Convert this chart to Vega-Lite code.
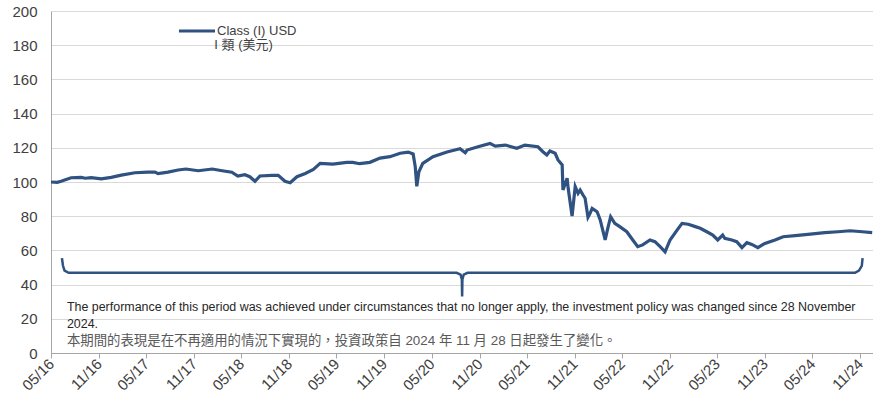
{
  "$schema": "https://vega.github.io/schema/vega-lite/v6.json",
  "width": 822,
  "height": 342,
  "autosize": {"type": "none"},
  "padding": {"left": 51, "top": 11, "right": 0, "bottom": 49},
  "background": "white",
  "config": {"view": {"stroke": null}, "font": "Liberation Sans"},
  "datasets": {
    "nav": [
      {"date": "2016-05-01", "value": 100, "series": "Class (I) USD"},
      {"date": "2016-05-25", "value": 99.8, "series": "Class (I) USD"},
      {"date": "2016-06-09", "value": 100.4, "series": "Class (I) USD"},
      {"date": "2016-07-17", "value": 102.5, "series": "Class (I) USD"},
      {"date": "2016-08-24", "value": 102.7, "series": "Class (I) USD"},
      {"date": "2016-09-10", "value": 102.2, "series": "Class (I) USD"},
      {"date": "2016-10-02", "value": 102.6, "series": "Class (I) USD"},
      {"date": "2016-11-10", "value": 101.8, "series": "Class (I) USD"},
      {"date": "2016-12-18", "value": 102.7, "series": "Class (I) USD"},
      {"date": "2017-01-26", "value": 104, "series": "Class (I) USD"},
      {"date": "2017-03-19", "value": 105.4, "series": "Class (I) USD"},
      {"date": "2017-05-08", "value": 105.8, "series": "Class (I) USD"},
      {"date": "2017-06-04", "value": 105.8, "series": "Class (I) USD"},
      {"date": "2017-06-16", "value": 104.9, "series": "Class (I) USD"},
      {"date": "2017-07-24", "value": 105.8, "series": "Class (I) USD"},
      {"date": "2017-09-01", "value": 107, "series": "Class (I) USD"},
      {"date": "2017-10-01", "value": 107.6, "series": "Class (I) USD"},
      {"date": "2017-11-17", "value": 106.6, "series": "Class (I) USD"},
      {"date": "2018-01-10", "value": 107.6, "series": "Class (I) USD"},
      {"date": "2018-02-17", "value": 106.6, "series": "Class (I) USD"},
      {"date": "2018-03-26", "value": 105.7, "series": "Class (I) USD"},
      {"date": "2018-04-18", "value": 103.5, "series": "Class (I) USD"},
      {"date": "2018-05-15", "value": 104.3, "series": "Class (I) USD"},
      {"date": "2018-06-03", "value": 103.1, "series": "Class (I) USD"},
      {"date": "2018-06-23", "value": 100.4, "series": "Class (I) USD"},
      {"date": "2018-07-12", "value": 103.5, "series": "Class (I) USD"},
      {"date": "2018-08-27", "value": 103.9, "series": "Class (I) USD"},
      {"date": "2018-09-20", "value": 103.9, "series": "Class (I) USD"},
      {"date": "2018-10-16", "value": 100.4, "series": "Class (I) USD"},
      {"date": "2018-11-05", "value": 99.6, "series": "Class (I) USD"},
      {"date": "2018-12-01", "value": 103.1, "series": "Class (I) USD"},
      {"date": "2019-01-02", "value": 105, "series": "Class (I) USD"},
      {"date": "2019-02-02", "value": 107.4, "series": "Class (I) USD"},
      {"date": "2019-02-28", "value": 110.9, "series": "Class (I) USD"},
      {"date": "2019-04-18", "value": 110.5, "series": "Class (I) USD"},
      {"date": "2019-06-10", "value": 111.5, "series": "Class (I) USD"},
      {"date": "2019-07-03", "value": 111.5, "series": "Class (I) USD"},
      {"date": "2019-07-30", "value": 110.7, "series": "Class (I) USD"},
      {"date": "2019-09-07", "value": 111.5, "series": "Class (I) USD"},
      {"date": "2019-10-16", "value": 114, "series": "Class (I) USD"},
      {"date": "2019-11-23", "value": 114.8, "series": "Class (I) USD"},
      {"date": "2020-01-01", "value": 116.8, "series": "Class (I) USD"},
      {"date": "2020-02-01", "value": 117.5, "series": "Class (I) USD"},
      {"date": "2020-02-20", "value": 116.4, "series": "Class (I) USD"},
      {"date": "2020-02-28", "value": 109, "series": "Class (I) USD"},
      {"date": "2020-03-05", "value": 97.5, "series": "Class (I) USD"},
      {"date": "2020-03-13", "value": 106, "series": "Class (I) USD"},
      {"date": "2020-03-28", "value": 110.9, "series": "Class (I) USD"},
      {"date": "2020-05-06", "value": 114.8, "series": "Class (I) USD"},
      {"date": "2020-06-29", "value": 117.5, "series": "Class (I) USD"},
      {"date": "2020-07-29", "value": 118.7, "series": "Class (I) USD"},
      {"date": "2020-08-18", "value": 119.5, "series": "Class (I) USD"},
      {"date": "2020-09-07", "value": 117.1, "series": "Class (I) USD"},
      {"date": "2020-09-14", "value": 118.7, "series": "Class (I) USD"},
      {"date": "2020-10-26", "value": 120.6, "series": "Class (I) USD"},
      {"date": "2020-12-11", "value": 122.6, "series": "Class (I) USD"},
      {"date": "2020-12-31", "value": 121, "series": "Class (I) USD"},
      {"date": "2021-02-08", "value": 121.6, "series": "Class (I) USD"},
      {"date": "2021-03-24", "value": 119.7, "series": "Class (I) USD"},
      {"date": "2021-04-24", "value": 121.6, "series": "Class (I) USD"},
      {"date": "2021-06-13", "value": 120.6, "series": "Class (I) USD"},
      {"date": "2021-07-02", "value": 117.7, "series": "Class (I) USD"},
      {"date": "2021-07-17", "value": 115.8, "series": "Class (I) USD"},
      {"date": "2021-07-29", "value": 118.1, "series": "Class (I) USD"},
      {"date": "2021-08-18", "value": 116.8, "series": "Class (I) USD"},
      {"date": "2021-08-29", "value": 112.9, "series": "Class (I) USD"},
      {"date": "2021-09-14", "value": 110, "series": "Class (I) USD"},
      {"date": "2021-09-17", "value": 95.3, "series": "Class (I) USD"},
      {"date": "2021-10-03", "value": 102.2, "series": "Class (I) USD"},
      {"date": "2021-10-07", "value": 96.3, "series": "Class (I) USD"},
      {"date": "2021-10-22", "value": 80.1, "series": "Class (I) USD"},
      {"date": "2021-11-03", "value": 97.3, "series": "Class (I) USD"},
      {"date": "2021-11-14", "value": 93.4, "series": "Class (I) USD"},
      {"date": "2021-11-22", "value": 95.3, "series": "Class (I) USD"},
      {"date": "2021-12-03", "value": 92.4, "series": "Class (I) USD"},
      {"date": "2021-12-11", "value": 90.5, "series": "Class (I) USD"},
      {"date": "2021-12-22", "value": 79.4, "series": "Class (I) USD"},
      {"date": "2021-12-30", "value": 81.7, "series": "Class (I) USD"},
      {"date": "2022-01-07", "value": 84.6, "series": "Class (I) USD"},
      {"date": "2022-01-26", "value": 82.6, "series": "Class (I) USD"},
      {"date": "2022-02-07", "value": 77.8, "series": "Class (I) USD"},
      {"date": "2022-02-26", "value": 66.1, "series": "Class (I) USD"},
      {"date": "2022-03-08", "value": 72.9, "series": "Class (I) USD"},
      {"date": "2022-03-19", "value": 79.7, "series": "Class (I) USD"},
      {"date": "2022-04-04", "value": 75.8, "series": "Class (I) USD"},
      {"date": "2022-04-23", "value": 73.9, "series": "Class (I) USD"},
      {"date": "2022-05-20", "value": 70.9, "series": "Class (I) USD"},
      {"date": "2022-06-12", "value": 66.1, "series": "Class (I) USD"},
      {"date": "2022-07-01", "value": 62.2, "series": "Class (I) USD"},
      {"date": "2022-07-20", "value": 63.2, "series": "Class (I) USD"},
      {"date": "2022-08-17", "value": 66.1, "series": "Class (I) USD"},
      {"date": "2022-09-05", "value": 65.1, "series": "Class (I) USD"},
      {"date": "2022-09-25", "value": 62.2, "series": "Class (I) USD"},
      {"date": "2022-10-14", "value": 59.2, "series": "Class (I) USD"},
      {"date": "2022-11-02", "value": 66.1, "series": "Class (I) USD"},
      {"date": "2022-11-29", "value": 71.9, "series": "Class (I) USD"},
      {"date": "2022-12-18", "value": 75.8, "series": "Class (I) USD"},
      {"date": "2023-01-11", "value": 75.3, "series": "Class (I) USD"},
      {"date": "2023-02-07", "value": 73.9, "series": "Class (I) USD"},
      {"date": "2023-02-26", "value": 72.9, "series": "Class (I) USD"},
      {"date": "2023-03-23", "value": 70.9, "series": "Class (I) USD"},
      {"date": "2023-04-15", "value": 69, "series": "Class (I) USD"},
      {"date": "2023-05-04", "value": 66.1, "series": "Class (I) USD"},
      {"date": "2023-05-23", "value": 69, "series": "Class (I) USD"},
      {"date": "2023-05-31", "value": 67, "series": "Class (I) USD"},
      {"date": "2023-06-27", "value": 66.1, "series": "Class (I) USD"},
      {"date": "2023-07-16", "value": 65.1, "series": "Class (I) USD"},
      {"date": "2023-08-05", "value": 61.6, "series": "Class (I) USD"},
      {"date": "2023-08-24", "value": 64.5, "series": "Class (I) USD"},
      {"date": "2023-09-12", "value": 63.5, "series": "Class (I) USD"},
      {"date": "2023-10-05", "value": 61.6, "series": "Class (I) USD"},
      {"date": "2023-11-01", "value": 64.1, "series": "Class (I) USD"},
      {"date": "2023-12-10", "value": 66.1, "series": "Class (I) USD"},
      {"date": "2024-01-10", "value": 68, "series": "Class (I) USD"},
      {"date": "2024-02-25", "value": 68.6, "series": "Class (I) USD"},
      {"date": "2024-04-14", "value": 69.4, "series": "Class (I) USD"},
      {"date": "2024-06-18", "value": 70.4, "series": "Class (I) USD"},
      {"date": "2024-08-08", "value": 70.9, "series": "Class (I) USD"},
      {"date": "2024-09-23", "value": 71.5, "series": "Class (I) USD"},
      {"date": "2024-11-09", "value": 70.9, "series": "Class (I) USD"},
      {"date": "2024-12-17", "value": 70.4, "series": "Class (I) USD"}
    ],
    "bracket": [
      {"seq": 1, "date": "2016-06-12", "value": 55.5},
      {"seq": 2, "date": "2016-06-16", "value": 51},
      {"seq": 3, "date": "2016-06-22", "value": 48.2},
      {"seq": 4, "date": "2016-07-08", "value": 46.9},
      {"seq": 5, "date": "2020-08-05", "value": 46.9},
      {"seq": 6, "date": "2020-08-20", "value": 45.8},
      {"seq": 7, "date": "2020-08-25", "value": 43},
      {"seq": 8, "date": "2020-08-26", "value": 33},
      {"seq": 9, "date": "2020-08-27", "value": 43},
      {"seq": 10, "date": "2020-09-01", "value": 45.8},
      {"seq": 11, "date": "2020-09-16", "value": 46.9},
      {"seq": 12, "date": "2024-10-12", "value": 46.9},
      {"seq": 13, "date": "2024-10-27", "value": 48.2},
      {"seq": 14, "date": "2024-11-07", "value": 51},
      {"seq": 15, "date": "2024-11-10", "value": 55.5}
    ],
    "noteEn": [
      {"date": "2016-07-01", "value": 26.9, "text": "The performance of this period was achieved under circumstances that no longer apply, the investment policy was changed since 28 November"},
      {"date": "2016-07-01", "value": 17, "text": "2024."}
    ],
    "noteZh": [
      {"date": "2016-07-01", "value": 7, "text": "本期間的表現是在不再適用的情況下實現的，投資政策自 2024 年 11 月 28 日起發生了變化。"}
    ],
    "legend2": [
      {"date": "2018-01-18", "value": 180.1, "text": "I 類 (美元)"}
    ]
  },
  "encoding": {
    "x": {
      "field": "date",
      "type": "temporal",
      "scale": {
        "type": "utc",
        "domain": [
          {"year": 2016, "month": 5, "date": 1, "utc": true},
          {"year": 2024, "month": 12, "date": 20, "utc": true}
        ]
      },
      "axis": {
        "title": null,
        "values": [
          {"year": 2016, "month": 5, "date": 1, "utc": true},
          {"year": 2016, "month": 11, "date": 1, "utc": true},
          {"year": 2017, "month": 5, "date": 1, "utc": true},
          {"year": 2017, "month": 11, "date": 1, "utc": true},
          {"year": 2018, "month": 5, "date": 1, "utc": true},
          {"year": 2018, "month": 11, "date": 1, "utc": true},
          {"year": 2019, "month": 5, "date": 1, "utc": true},
          {"year": 2019, "month": 11, "date": 1, "utc": true},
          {"year": 2020, "month": 5, "date": 1, "utc": true},
          {"year": 2020, "month": 11, "date": 1, "utc": true},
          {"year": 2021, "month": 5, "date": 1, "utc": true},
          {"year": 2021, "month": 11, "date": 1, "utc": true},
          {"year": 2022, "month": 5, "date": 1, "utc": true},
          {"year": 2022, "month": 11, "date": 1, "utc": true},
          {"year": 2023, "month": 5, "date": 1, "utc": true},
          {"year": 2023, "month": 11, "date": 1, "utc": true},
          {"year": 2024, "month": 5, "date": 1, "utc": true},
          {"year": 2024, "month": 11, "date": 1, "utc": true}
        ],
        "labelExpr": "utcFormat(datum.value, '%m/%y')",
        "labelAngle": -45,
        "labelAlign": "right",
        "labelBaseline": "middle",
        "labelFontSize": 15,
        "labelColor": "#404040",
        "labelPadding": 3,
        "labelOverlap": false,
        "labelFlush": false,
        "grid": false,
        "tickSize": 5,
        "tickColor": "#a6a6a6",
        "domainColor": "#a6a6a6"
      }
    },
    "y": {
      "field": "value",
      "type": "quantitative",
      "scale": {"domain": [0, 200]},
      "axis": {
        "title": null,
        "values": [0, 20, 40, 60, 80, 100, 120, 140, 160, 180, 200],
        "grid": true,
        "gridColor": "#d9d9d9",
        "domainColor": "#a6a6a6",
        "ticks": false,
        "labelPadding": 14,
        "labelFontSize": 15,
        "labelColor": "#404040"
      }
    }
  },
  "layer": [
    {
      "data": {"name": "nav"},
      "mark": {"type": "line", "strokeWidth": 3.2},
      "encoding": {
        "color": {
          "field": "series",
          "type": "nominal",
          "scale": {"range": ["#2F5281"]},
          "legend": {
            "orient": "none",
            "legendX": 126,
            "legendY": 0,
            "title": null,
            "padding": 0,
            "symbolType": "stroke",
            "symbolSize": 1300,
            "symbolStrokeWidth": 3,
            "labelFontSize": 13,
            "labelColor": "#404040",
            "labelOffset": 0
          }
        }
      }
    },
    {
      "data": {"name": "bracket"},
      "mark": {"type": "line", "strokeWidth": 2.5, "color": "#2F5281"},
      "encoding": {"order": {"field": "seq", "type": "quantitative"}}
    },
    {
      "data": {"name": "noteEn"},
      "mark": {"type": "text", "align": "left", "baseline": "middle", "fontSize": 12.45, "color": "#262626"},
      "encoding": {"text": {"field": "text"}}
    },
    {
      "data": {"name": "noteZh"},
      "mark": {"type": "text", "align": "left", "baseline": "middle", "fontSize": 13.4, "color": "#595959", "font": "Liberation Sans, Noto Sans CJK TC"},
      "encoding": {"text": {"field": "text"}}
    },
    {
      "data": {"name": "legend2"},
      "mark": {"type": "text", "align": "left", "baseline": "middle", "fontSize": 13, "color": "#404040", "font": "Liberation Sans, Noto Sans CJK TC"},
      "encoding": {"text": {"field": "text"}}
    }
  ]
}
